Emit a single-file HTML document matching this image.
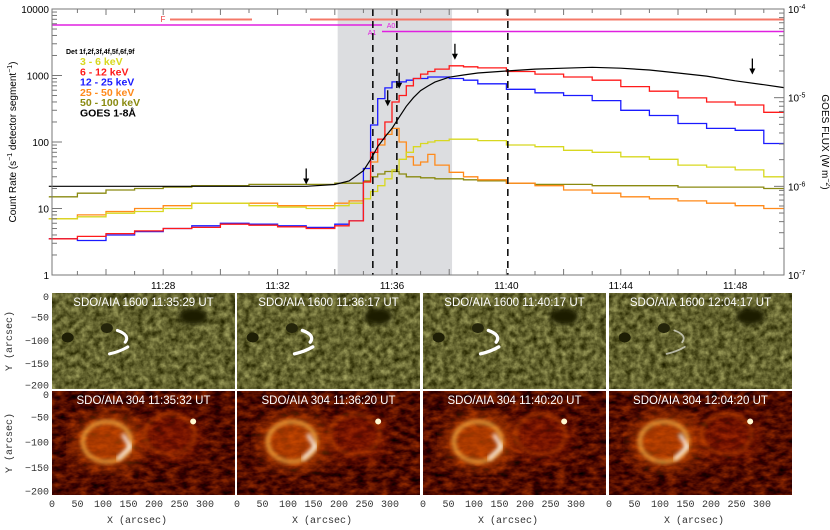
<!DOCTYPE html>
<html><head><meta charset="utf-8"><style>
html,body{margin:0;padding:0;background:#fff;}
svg{display:block;font-family:"Liberation Sans",sans-serif;}
.mono{font-family:"Liberation Mono",monospace;}
</style></head><body>
<svg id="fig" width="830" height="530" viewBox="0 0 830 530" xmlns="http://www.w3.org/2000/svg">
<defs>
<filter id="blur2"><feGaussianBlur stdDeviation="2"/></filter>
<filter id="blur4"><feGaussianBlur stdDeviation="4"/></filter>
<filter id="blur8"><feGaussianBlur stdDeviation="8"/></filter>
<filter id="tex1600" x="0" y="0" width="100%" height="100%" color-interpolation-filters="sRGB">
  <feTurbulence type="fractalNoise" baseFrequency="0.16" numOctaves="3" seed="4"/>
  <feColorMatrix type="matrix" values="0.65 0 0 0 0.06  0.65 0 0 0 0.06  0.5 0 0 0 -0.07  0 0 0 0 1"/>
</filter>
<filter id="tex304" x="0" y="0" width="100%" height="100%" color-interpolation-filters="sRGB">
  <feTurbulence type="fractalNoise" baseFrequency="0.09 0.18" numOctaves="3" seed="9"/>
  <feColorMatrix type="matrix" values="0.75 0 0 0 -0.06  0.35 0 0 0 -0.13  0 0 0 0 0  0 0 0 0 1"/>
</filter>
</defs>
<g id="topplot"></g>
<g id="panels"></g>
</svg>
<script>
// ---- chart data ----
const times = [24,25,26,27,28,29,30,31,32,33,34,34.5,35,35.25,35.5,35.75,36,36.25,36.5,36.75,37,37.25,37.5,38,38.5,39,40,41,42,43,44,45,46,47,48,49];
const endTime = 49.7;
const red612 = [3.5,3.8,4.2,4.6,5,5.2,5.8,5.6,5.3,5,5.5,6.5,25,70,110,200,400,500,700,900,1050,1150,1250,1400,1350,1300,1150,1050,950,850,680,580,460,400,360,280];
const blue1225 = [3.5,3.3,4,4.5,5,5.5,6,5.8,5.5,5.2,5.8,6.5,40,180,450,650,800,800,850,900,900,950,950,900,850,750,620,550,500,420,300,250,190,160,150,95];
const yel36 = [7,7.5,8.5,9,10,12,12,11,10.5,10,11,12,14,18,22,28,38,55,70,85,95,100,105,110,110,105,90,85,75,70,60,55,45,42,38,30];
const org2550 = [7,8,9,10,11,12,12,12,11,11,12,13,25,50,90,130,160,100,60,45,50,65,45,35,30,27,24,22,19,17,15,14,13,12,11,10];
const olv50100 = [15,17,19,20,21,22,22,23,23,23,24,24,26,30,33,36,36,33,30,30,29,29,28,28,27,26,24,23,23,22,22,22,21,21,21,20];
const goesFlux = [1,1,1,1,1,1,1,1,1,1,1.05,1.15,1.5,2,2.8,3.6,4.5,6,8,10,12,13.5,15,17,18,19,20,21,21.5,22,21.5,20.5,19,17.5,15.5,14]; // x1e-6 W m^-2
const timeTicks = [28,32,36,40,44,48];
const timeTickLabels = ["11:28","11:32","11:36","11:40","11:44","11:48"];
const countTicks = [1,10,100,1000,10000];
const dashedTimes = [35.33,36.17,40.05];
const arrowTimes = [33.0,35.85,36.25,38.2,48.6];
const arrowCounts = [40,600,1100,3000,1800];

const NS="http://www.w3.org/2000/svg";
function mk(tag,attrs,parent){const e=document.createElementNS(NS,tag);for(const k in attrs)e.setAttribute(k,attrs[k]);parent.appendChild(e);return e;}
const L=52,R=784,T=9,B=275;
const xT=t=>392+(t-36)*28.6;
const yC=c=>B-Math.log10(c)*66.5;
const yG=f=>T+(-4-Math.log10(f*1e-6))*88.67;
const topG=document.getElementById('topplot');

let sh=mk('rect',{x:xT(34.1),y:T,width:xT(38.1)-xT(34.1),height:B-T,fill:'#dcdde0'},topG);



let b1=mk('line',{x1:170,x2:252,y1:19.5,y2:19.5,stroke:'#f47868','stroke-width':2},topG);


let b2=mk('line',{x1:310,x2:R,y1:19.5,y2:19.5,stroke:'#f47868','stroke-width':2},topG);


let ft=mk('text',{x:163,y:22,fill:'#f04040','font-size':8,'text-anchor':'middle'},topG);ft.textContent='F';


let m1=mk('line',{x1:L,x2:382,y1:25,y2:25,stroke:'#e020e0','stroke-width':1.5},topG);


let m2=mk('line',{x1:382,x2:R,y1:31.5,y2:31.5,stroke:'#e020e0','stroke-width':1.5},topG);


let a0=mk('text',{x:391,y:28,fill:'#e020e0','font-size':7,'text-anchor':'middle'},topG);a0.textContent='A0';


let a1=mk('text',{x:372,y:35,fill:'#e020e0','font-size':7,'text-anchor':'middle'},topG);a1.textContent='A1';



function stepPath(vals){let d='';for(let i=0;i<times.length;i++){const x0=xT(times[i]),x1=xT(i+1<times.length?times[i+1]:endTime),y=yC(vals[i]);d+=(i?'L':'M')+x0.toFixed(1)+','+y.toFixed(1)+'L'+x1.toFixed(1)+','+y.toFixed(1);}return d;}
const series=[[olv50100,'#8a8a10','series-50-100kev'],[org2550,'#ff8a1a','series-25-50kev'],[yel36,'#d8d820','series-3-6kev'],[blue1225,'#1a1aff','series-12-25kev'],[red612,'#ff1a1a','series-6-12kev']];
series.forEach(s=>{const p=mk('path',{d:stepPath(s[0]),fill:'none',stroke:s[1],'stroke-width':1.3},topG);

});
let gd='';times.forEach((t,i)=>{gd+=(i?'L':'M')+xT(t).toFixed(1)+','+yG(goesFlux[i]).toFixed(1);});gd+='L'+xT(endTime)+','+yG(13).toFixed(1);
let gp=mk('path',{d:gd,fill:'none',stroke:'#000','stroke-width':1.2},topG);



dashedTimes.forEach(t=>{const l=mk('line',{x1:xT(t),x2:xT(t),y1:T,y2:B,stroke:'#000','stroke-width':1.5,'stroke-dasharray':'7,5'},topG);

});
arrowTimes.forEach((t,i)=>{const x=xT(t),y=yC(arrowCounts[i]);const g=mk('g',{},topG);


mk('line',{x1:x,x2:x,y1:y,y2:y+13,stroke:'#000','stroke-width':1.3},g);mk('path',{d:`M${x-3},${y+10}L${x+3},${y+10}L${x},${y+16}Z`,fill:'#000'},g);});

let box=mk('rect',{x:L,y:T,width:R-L,height:B-T,fill:'none',stroke:'#777','stroke-width':1},topG);


for(let d=0;d<4;d++)for(let k=1;k<10;k++){const y=yC(Math.pow(10,d)*k);const len=k==1?10:5;mk('line',{x1:L,x2:L+len,y1:y,y2:y,stroke:'#777'},topG);}
countTicks.forEach(c=>{const t=mk('text',{x:L-3,y:yC(c)+4,'font-size':10,'text-anchor':'end'},topG);t.textContent=String(c);

});
for(let d=-7;d<-4;d++)for(let k=1;k<10;k++){const f=Math.pow(10,d)*k*1e6;const y=yG(f);const len=k==1?10:5;mk('line',{x1:R,x2:R-len,y1:y,y2:y,stroke:'#777'},topG);}
[-4,-5,-6,-7].forEach(e=>{const y=yG(Math.pow(10,e)*1e6);const t=mk('text',{x:R+4,y:y+4,'font-size':10},topG);
const t1=mk('tspan',{},t);t1.textContent='10';const t2=mk('tspan',{dy:-4,'font-size':7},t);t2.textContent=String(e);

});
for(let m=25;m<=49;m++){const x=xT(m);const len=m%2==0?6:4;mk('line',{x1:x,x2:x,y1:B,y2:B-len,stroke:'#777'},topG);mk('line',{x1:x,x2:x,y1:T,y2:T+len,stroke:'#777'},topG);}
timeTicks.forEach((m,i)=>{const t=mk('text',{x:xT(m),y:289,'font-size':10,'text-anchor':'middle'},topG);t.textContent=timeTickLabels[i];

});
function rich(parent,parts){parts.forEach(p=>{const s=mk('tspan',p[1]?{dy:p[1],'font-size':p[2]||10}:{},parent);s.textContent=p[0];});}
let yt=mk('text',{x:0,y:0,'font-size':10,'text-anchor':'middle',transform:'translate(16,142) rotate(-90)'},topG);
rich(yt,[['Count Rate (s'],['−1',-4,7],[' detector segment',4,10],['−1',-4,7],[')',4,10]]);


let rt=mk('text',{x:0,y:0,'font-size':10,'text-anchor':'middle',transform:'translate(822,142) rotate(90)'},topG);
rich(rt,[['GOES FLUX (W m'],['−2',-4,7],[')',4,10]]);


const legend=mk('g',{},topG);


let lh=mk('text',{x:66,y:54,'font-size':7,'font-weight':'bold'},legend);lh.textContent='Det 1f,2f,3f,4f,5f,6f,9f';


const legTexts=['3 - 6 keV','6 - 12 keV','12 - 25 keV','25 - 50 keV','50 - 100 keV','GOES 1-8Å'];
const legCols=['#d8d820','#ff1a1a','#1a1aff','#ff8a1a','#8a8a10','#000'];
legTexts.forEach((s,i)=>{const t=mk('text',{x:80,y:65+i*10.3,'font-size':10.5,'font-weight':'bold',fill:legCols[i]},legend);t.textContent=s;

});

// ---- image panels ----
const P=document.getElementById('panels');
const colX=[52,237,423,609];const colW=183;
const rows=[{y:293,h:96,kind:'1600'},{y:391,h:104,kind:'304'}];
const titles=[["SDO/AIA 1600 11:35:29 UT","SDO/AIA 1600 11:36:17 UT","SDO/AIA 1600 11:40:17 UT","SDO/AIA 1600 12:04:17 UT"],["SDO/AIA 304 11:35:32 UT","SDO/AIA 304 11:36:20 UT","SDO/AIA 304 11:40:20 UT","SDO/AIA 304 12:04:20 UT"]];
const ribbon=[1,1.1,1.1,0.6];
rows.forEach((r,ri)=>{colX.forEach((cx,ci)=>{
  const g=mk('g',{},P);
  
  
  const cid='clip'+ri+ci;const cp=mk('clipPath',{id:cid},g);mk('rect',{x:cx,y:r.y,width:colW,height:r.h},cp);
  const ig=mk('g',{'clip-path':`url(#${cid})`},g);
  const sx=v=>cx+v*colW/350, sy=v=>r.y+(-v)*r.h/205;
  if(r.kind==='1600'){
    mk('rect',{x:cx,y:r.y,width:colW,height:r.h,fill:'#5c5c1c'},ig);
    mk('rect',{x:cx,y:r.y,width:colW,height:r.h,filter:'url(#tex1600)'},ig);
    mk('ellipse',{cx:sx(270),cy:sy(-50),rx:14,ry:8,fill:'#1a1a04',filter:'url(#blur2)'},ig);
    mk('ellipse',{cx:sx(30),cy:sy(-95),rx:6,ry:5,fill:'#1e1e05'},ig);
    mk('ellipse',{cx:sx(105),cy:sy(-75),rx:6,ry:5,fill:'#24240a'},ig);
    const s=ribbon[ci];
    mk('path',{d:`M${sx(125)},${sy(-80)}Q${sx(150)},${sy(-90)} ${sx(140)},${sy(-105)}M${sx(145)},${sy(-115)}Q${sx(130)},${sy(-125)} ${sx(110)},${sy(-130)}`,stroke:'#fff','stroke-width':3*s,fill:'none','stroke-linecap':'round',opacity:ci==3?0.6:1},ig);
  } else {
    mk('rect',{x:cx,y:r.y,width:colW,height:r.h,fill:'#600800'},ig);
    mk('rect',{x:cx,y:r.y,width:colW,height:r.h,filter:'url(#tex304)'},ig);
    mk('ellipse',{cx:sx(110),cy:sy(-100),rx:36,ry:28,fill:'#e85a00',opacity:0.6,filter:'url(#blur8)'},ig);
    mk('ellipse',{cx:sx(230),cy:sy(-90),rx:30,ry:24,fill:'#b02000',opacity:0.4,filter:'url(#blur8)'},ig);
    mk('ellipse',{cx:sx(105),cy:sy(-100),rx:24,ry:20,fill:'none',stroke:'#ffc050','stroke-width':3,opacity:0.95,filter:'url(#blur2)'},ig);
    mk('ellipse',{cx:sx(225),cy:sy(-85),rx:25,ry:20,fill:'none',stroke:'#e06010','stroke-width':2,opacity:0.7,filter:'url(#blur2)'},ig);
    mk('path',{d:`M${sx(135)},${sy(-85)}L${sx(150)},${sy(-110)}L${sx(125)},${sy(-135)}`,stroke:'#fff','stroke-width':3.5,fill:'none',filter:'url(#blur2)'},ig);
    mk('ellipse',{cx:sx(270),cy:sy(-60),rx:3,ry:3,fill:'#fff8d0'},ig);
  }
  const tt=mk('text',{x:cx+colW/2,y:r.y+13,'font-size':11.5,fill:'#fff','text-anchor':'middle'},g);tt.textContent=titles[ri][ci];
  
  
  if(ci===0){
    [0,-50,-100,-150,-200].forEach(v=>{const t=mk('text',{x:49,y:sy(v)+4+(v===0?3:0)+(v===-200?-2:0),'font-size':10,'text-anchor':'end',fill:'#333',class:'mono'},P);t.textContent=v===0?'0':'−'+(-v);
    
    });
    const yl=mk('text',{x:0,y:0,'font-size':10,'text-anchor':'middle',fill:'#333',class:'mono',transform:`translate(12,${r.y+r.h/2}) rotate(-90)`},P);yl.textContent='Y (arcsec)';
    
    
  }
  if(ri===1){
    [0,50,100,150,200,250,300].forEach(v=>{const t=mk('text',{x:cx+v*0.51,y:507,'font-size':10,'text-anchor':'middle',fill:'#333',class:'mono'},P);t.textContent=String(v);
    
    });
    const xl=mk('text',{x:cx+85,y:523,'font-size':10,'text-anchor':'middle',fill:'#333',class:'mono'},P);xl.textContent='X (arcsec)';
    
    
  }
});});
</script>
</body></html>
